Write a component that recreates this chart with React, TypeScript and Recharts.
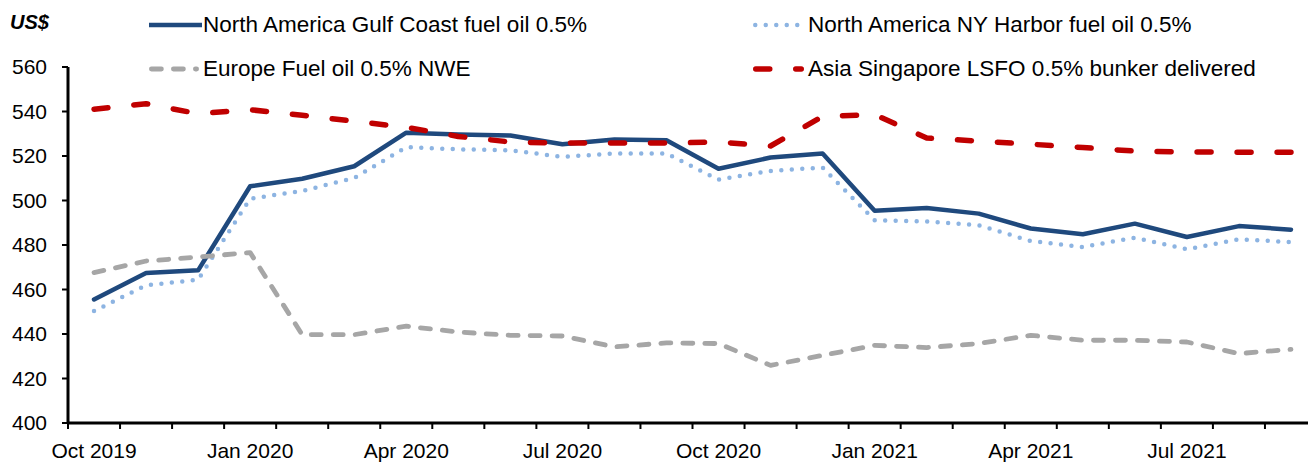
import React from "react";
import { LineChart, Line, XAxis, YAxis } from "recharts";

const months = [
  "Oct 2019", "Nov 2019", "Dec 2019", "Jan 2020", "Feb 2020", "Mar 2020",
  "Apr 2020", "May 2020", "Jun 2020", "Jul 2020", "Aug 2020", "Sep 2020",
  "Oct 2020", "Nov 2020", "Dec 2020", "Jan 2021", "Feb 2021", "Mar 2021",
  "Apr 2021", "May 2021", "Jun 2021", "Jul 2021", "Aug 2021", "Sep 2021",
];

const quarterLabels = [
  "Oct 2019", "Jan 2020", "Apr 2020", "Jul 2020",
  "Oct 2020", "Jan 2021", "Apr 2021", "Jul 2021",
];

const gulfCoast = [
  455.5, 467.4, 468.6, 506.4, 509.8, 515.4, 530.5, 529.7, 529.2, 525.3, 527.4, 527.1,
  514.3, 519.3, 521.1, 495.4, 496.6, 494.1, 487.4, 484.8, 489.6, 483.6, 488.5, 486.9,
];

const nyHarbor = [
  450.3, 461.9, 464.4, 500.8, 504.3, 510.1, 524.0, 523.0, 522.6, 519.6, 521.1, 521.1,
  509.4, 513.3, 514.8, 491.1, 490.6, 488.9, 481.8, 479.1, 483.3, 478.1, 482.6, 481.3,
];

const europeNwe = [
  467.6, 472.8, 474.6, 476.6, 439.7, 439.7, 443.5, 440.9, 439.4, 439.1, 434.2, 436.0,
  435.7, 425.9, 430.4, 434.9, 433.9, 435.7, 439.4, 437.2, 437.2, 436.4, 431.2, 433.1,
];

const asiaSingapore = [
  541.0, 543.5, 539.0, 540.8, 538.3, 535.6, 532.9, 528.8, 526.3, 525.8, 525.8, 525.8,
  526.3, 524.5, 537.8, 538.6, 528.1, 526.7, 525.3, 523.8, 522.2, 521.8, 521.7, 521.7,
];

const yTicks = [400, 420, 440, 460, 480, 500, 520, 540, 560];

const FONT = "'Liberation Sans', Arial, sans-serif";
const CHART_W = 1330;
const CHART_H = 462;
const Y_AXIS_W = 68;
const MARGIN_RIGHT = 13;
const BAND_HALF = (CHART_W - Y_AXIS_W - MARGIN_RIGHT) / months.length / 2;

const series = [
  { key: "gulf", name: "North America Gulf Coast fuel oil 0.5%", color: "#1F497D", width: 4.5, dash: undefined as string | undefined },
  { key: "ny", name: "North America NY Harbor fuel oil 0.5%", color: "#8DB4E2", width: 4.5, dash: "0 10.5" },
  { key: "europe", name: "Europe Fuel oil 0.5% NWE", color: "#A6A6A6", width: 4.8, dash: "10 12" },
  { key: "asia", name: "Asia Singapore LSFO 0.5% bunker delivered", color: "#C00000", width: 5.5, dash: "14 26" },
];

const data = months.map((month, i) => ({
  month,
  gulf: gulfCoast[i],
  ny: nyHarbor[i],
  europe: europeNwe[i],
  asia: asiaSingapore[i],
}));

function MonthTick(props: any) {
  const { x, y, payload, index } = props;
  const showLabel = quarterLabels.includes(payload.value);
  return (
    <g>
      <line x1={x - BAND_HALF} x2={x - BAND_HALF} y1={y} y2={y + 6} stroke="#000" strokeWidth={2} />
      {index === months.length - 1 && (
        <line x1={x + BAND_HALF} x2={x + BAND_HALF} y1={y} y2={y + 6} stroke="#000" strokeWidth={2} />
      )}
      {showLabel && (
        <text x={x} y={y + 35} textAnchor="middle" fontSize={21} fontFamily={FONT} fill="#000">
          {payload.value}
        </text>
      )}
    </g>
  );
}

function LegendItem({
  item,
  from,
  to,
  textLeft,
  top,
}: {
  item: (typeof series)[number];
  from: number;
  to: number;
  textLeft: number;
  top: number;
}) {
  const cap = item.dash ? item.width / 2 : 0;
  return (
    <>
      <svg style={{ position: "absolute", left: from, top: top + 9 }} width={to - from} height={12}>
        <line
          x1={cap}
          x2={to - from - cap}
          y1={6}
          y2={6}
          stroke={item.color}
          strokeWidth={item.width}
          strokeDasharray={item.dash}
          strokeLinecap={item.dash ? "round" : "butt"}
        />
      </svg>
      <div
        style={{
          position: "absolute",
          left: textLeft,
          top,
          height: 30,
          lineHeight: "30px",
          fontSize: 22.5,
          fontFamily: FONT,
          color: "#000",
          whiteSpace: "nowrap",
        }}
      >
        {item.name}
      </div>
    </>
  );
}

export default function App() {
  return (
    <div style={{ position: "absolute", left: 0, top: 0, width: 1308, height: 462, overflow: "hidden", background: "#fff" }}>
      <div style={{ position: "absolute", left: 10, top: 11, fontSize: 20, fontWeight: "bold", fontStyle: "italic", fontFamily: FONT }}>
        US$
      </div>
      <LegendItem item={series[0]} from={149} to={202} textLeft={203} top={10} />
      <LegendItem item={series[1]} from={753} to={803} textLeft={808} top={10} />
      <LegendItem item={series[2]} from={149} to={199} textLeft={203} top={54} />
      <LegendItem item={series[3]} from={753} to={804} textLeft={808} top={54} />
      <LineChart width={CHART_W} height={CHART_H} data={data} margin={{ top: 67, right: MARGIN_RIGHT, bottom: 0, left: 0 }}>
        <XAxis
          dataKey="month"
          interval={0}
          height={39}
          padding={{ left: BAND_HALF, right: BAND_HALF }}
          tickLine={false}
          tickSize={0}
          tickMargin={0}
          axisLine={{ stroke: "#000", strokeWidth: 3 }}
          tick={<MonthTick />}
        />
        <YAxis
          width={Y_AXIS_W}
          domain={[400, 560]}
          ticks={yTicks}
          interval={0}
          tickSize={6}
          tickMargin={15}
          axisLine={{ stroke: "#000", strokeWidth: 3 }}
          tickLine={{ stroke: "#000", strokeWidth: 2 }}
          tick={{ fontSize: 21, fontFamily: FONT, fill: "#000" }}
        />
        {series.map((s) => (
          <Line
            key={s.key}
            dataKey={s.key}
            name={s.name}
            type="linear"
            stroke={s.color}
            strokeWidth={s.width}
            strokeDasharray={s.dash}
            strokeLinecap="round"
            strokeLinejoin="round"
            dot={false}
            activeDot={false}
            isAnimationActive={false}
          />
        ))}
      </LineChart>
    </div>
  );
}
